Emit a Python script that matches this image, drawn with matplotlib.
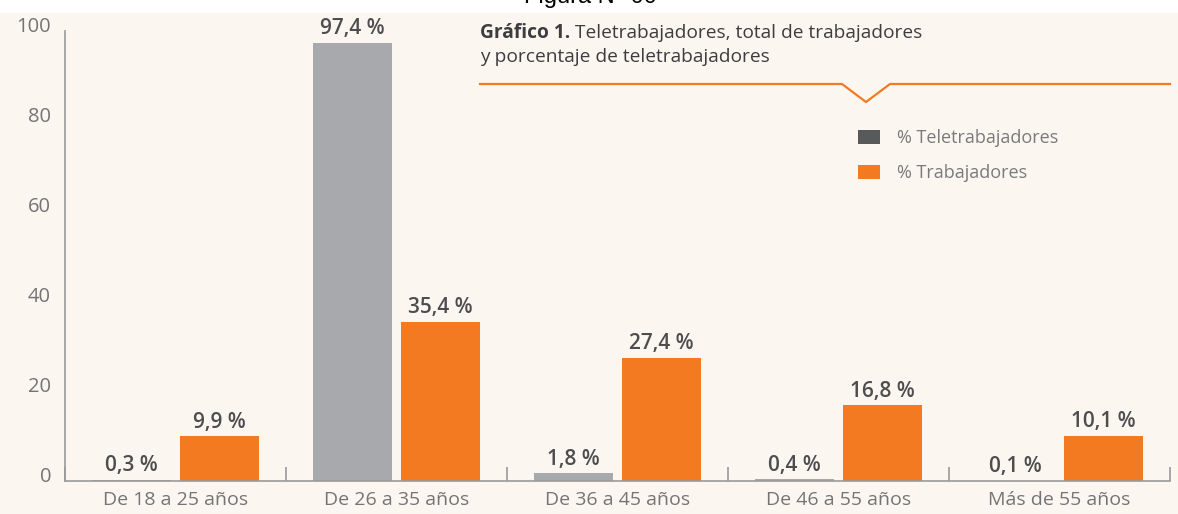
import matplotlib
matplotlib.use("Agg")
import matplotlib.pyplot as plt
from matplotlib.patches import Patch, Rectangle
from matplotlib.lines import Line2D
from matplotlib.transforms import ScaledTranslation
import numpy as np

categories = ["De 18 a 25 años", "De 26 a 35 años", "De 36 a 45 años", "De 46 a 55 años", "Más de 55 años"]
teletrabajadores = [0.3, 97.4, 1.8, 0.4, 0.1]
trabajadores = [9.9, 35.4, 27.4, 16.8, 10.1]
yticks = [0, 20, 40, 60, 80, 100]
series_names = ["% Teletrabajadores", "% Trabajadores"]

W, H = 1178, 514
BG = "#fcf6f1"
GREY = "#a7a9ac"
ORANGE = "#f37a21"
DARK = "#58595b"
TXT = "#4d4d4f"
TICK = "#747476"

plt.rcParams['font.family'] = ['Open Sans', 'DejaVu Sans']

fig = plt.figure(figsize=(W / 100, H / 100), dpi=100)
fig.patch.set_facecolor(BG)

def fx(px):
    return px / W

def fy(py):
    return 1 - py / H

# white top band with clipped caption
fig.patches.append(Rectangle((0, fy(13)), 1, 13 / H, transform=fig.transFigure,
                             facecolor="white", edgecolor="none", zorder=0))
fig.text(fx(590), fy(3), "Figura N° 00", ha="center", va="baseline", fontsize=17,
         color="black", family=["Liberation Sans", "DejaVu Sans"])

ax = fig.add_axes([fx(65), fy(481), fx(1170) - fx(65), fy(31) - fy(481)])
ax.set_facecolor(BG)
x = np.arange(len(categories))
bw = 0.357
off = 0.2
b1 = ax.bar(x - off, teletrabajadores, bw, color=GREY, zorder=2)
b2 = ax.bar(x + off, trabajadores, bw, color=ORANGE, zorder=2)

for bars, vals in ((b1, teletrabajadores), (b2, trabajadores)):
    for r, v in zip(bars, vals):
        ax.annotate(f"{v:.1f} %".replace(".", ","),
                    (r.get_x() + r.get_width() / 2, r.get_height()),
                    xytext=(0, 6), textcoords="offset points",
                    ha="center", va="baseline", fontsize=15, color=TXT,
                    fontweight="semibold")

ax.set_xlim(-0.5, len(categories) - 0.5)
ax.set_ylim(0, 100)
ax.set_yticks(yticks)
ax.set_yticklabels([str(t) for t in yticks], fontsize=14.5, color=TICK)
ax.tick_params(axis="y", length=0, pad=10)
shift = ScaledTranslation(0, 7 / 100, fig.dpi_scale_trans)
for lab in ax.get_yticklabels():
    lab.set_transform(lab.get_transform() + shift)
ax.set_xticks(x)
ax.set_xticklabels(categories, fontsize=14, color=TICK)
ax.set_xticks(np.arange(-0.5, len(categories)), minor=True)
ax.tick_params(axis="x", which="major", length=0, pad=7)
ax.tick_params(axis="x", which="minor", direction="in", length=10, color="#9a9a9a", width=1.2)
for s in ("top", "right"):
    ax.spines[s].set_visible(False)
for s in ("left", "bottom"):
    ax.spines[s].set_color("#9a9a9a")
    ax.spines[s].set_linewidth(1.2)

# title
TS = 13.8
t1 = fig.text(fx(480), fy(33), "Gráfico 1.", ha="left", va="center", fontsize=TS,
              fontweight="bold", color="#3d3d3f")
fig.canvas.draw()
bb = t1.get_window_extent()
fig.text(fx(bb.x1 + 5), fy(33), "Teletrabajadores, total de trabajadores", ha="left",
         va="center", fontsize=TS, color="#3d3d3f")
fig.text(fx(480), fy(57), "y porcentaje de teletrabajadores", ha="left", va="center",
         fontsize=TS, color="#3d3d3f")

# orange rule with notch
lx = [480, 842, 866, 890, 1170]
ly = [84, 84, 102, 84, 84]
fig.lines.append(Line2D([fx(v) for v in lx], [fy(v) for v in ly], transform=fig.transFigure,
                        color=ORANGE, linewidth=1.6))

handles = [Patch(facecolor=DARK, edgecolor="none"), Patch(facecolor=ORANGE, edgecolor="none")]
fig.legend(handles, series_names, loc="upper left", bbox_to_anchor=(fx(858), fy(129)),
           frameon=False, fontsize=13, labelcolor="#7a7a7c", handlelength=1.2,
           handleheight=0.85, handletextpad=0.95, labelspacing=0.95,
           borderpad=0, borderaxespad=0)

fig.savefig("out.png", dpi=100, facecolor=BG)
